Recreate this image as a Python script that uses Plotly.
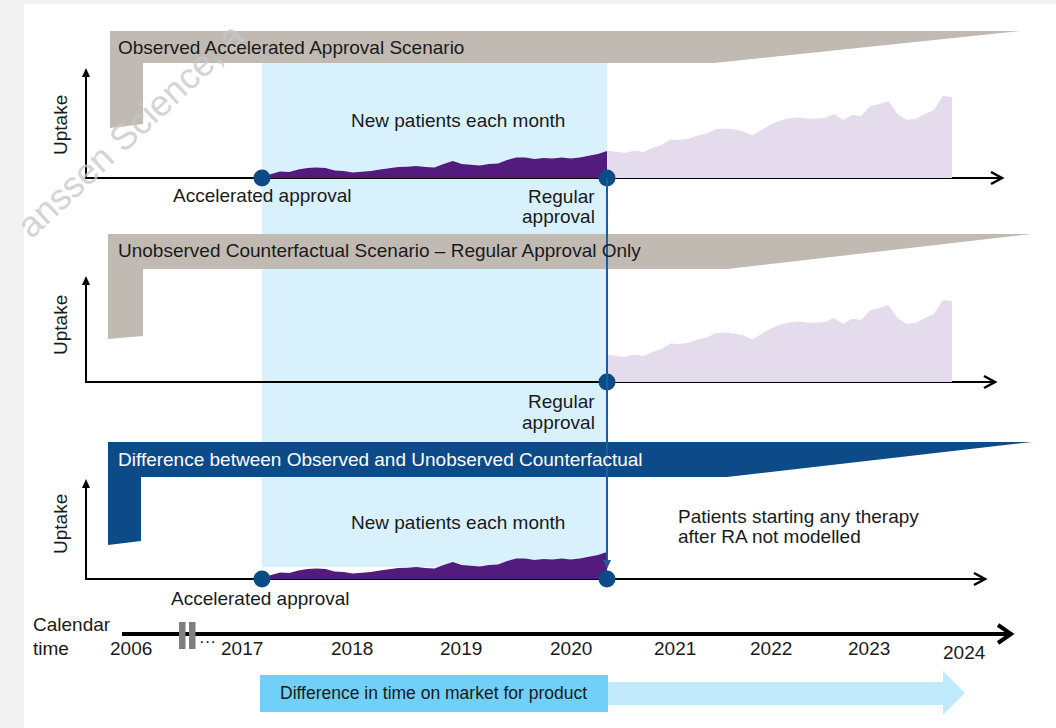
import plotly.graph_objects as go

W, H = 1056, 728

# ---------------- data ----------------
# months since accelerated approval
months_pre = list(range(0, 39))
uptake_pre = [0, 4, 6.5, 6, 8.5, 10, 10.5, 10, 7.5, 7,
              5.5, 6, 7, 8.5, 10, 11, 11.2, 12, 11, 10.5,
              14, 17, 14, 13, 12.5, 14, 14.5, 18, 20.5, 20.5,
              19, 20, 19.5, 20.5, 19.5, 20.5, 22, 24, 27]
months_post = list(range(38, 77))
uptake_post = [27.3, 26.5, 25, 27.5, 26, 30, 33, 38.5, 38, 39.3,
               42.5, 44.5, 49, 49.5, 48.5, 46.7, 42.5, 48, 53.3, 57.3,
               59.5, 60.5, 59.5, 59.3, 60, 64, 58, 63.3, 62, 72,
               74, 77, 64, 58.3, 59, 64, 68, 82, 81]
accel_month = 0
regular_month = 38

year_labels = ["2006", "2017", "2018", "2019", "2020", "2021", "2022", "2023", "2024"]
panel_titles = ["Observed Accelerated Approval Scenario",
                "Unobserved Counterfactual Scenario \u2013 Regular Approval Only",
                "Difference between Observed and Unobserved Counterfactual"]

# ---------------- style ----------------
FONT = "Liberation Sans, Arial, sans-serif"
TXT = "#1a1a1a"
GREY_BAR = "#c1bab3"
BLUE_BAR = "#0c4a88"
BAND = "#d9f1fc"
PURPLE = "#541b7e"
LAVENDER = "#e4dbec"
DOT = "#0b4c85"
VLINE = "#1f5c9c"

panel_base = [178, 382, 579]     # pixel y of each panel's baseline
panel_top = [68, 276, 479]
panel_xend = [1002, 995, 985]
AX_X = 86
SPAN = 100                       # pixel height of each uptake axis

fig = go.Figure()

def ydom(b):
    return [1 - b / H, 1 - (b - SPAN) / H]

layout_axes = dict(
    xaxis=dict(range=[0, W], domain=[0, 1], visible=False, fixedrange=True),
    yaxis=dict(range=[H, 0], domain=[0, 1], visible=False, fixedrange=True),
    xaxis2=dict(range=[0, 76], domain=[262 / W, 952 / W], anchor="y2", visible=False),
    yaxis2=dict(range=[0, SPAN], domain=ydom(panel_base[0]), anchor="x2", visible=False),
    yaxis3=dict(range=[0, SPAN], domain=ydom(panel_base[1]), anchor="x2", visible=False),
    yaxis4=dict(range=[0, SPAN], domain=ydom(panel_base[2]), anchor="x2", visible=False),
)

def area(x, y, ya, color):
    fig.add_trace(go.Scatter(x=x, y=y, xaxis="x2", yaxis=ya, mode="lines",
                             fill="tozeroy", fillcolor=color,
                             line=dict(width=0, color=color),
                             hoverinfo="skip", showlegend=False))

# panel 1: observed (pre) + post
area(months_pre, uptake_pre, "y2", PURPLE)
area(months_post, uptake_post, "y2", LAVENDER)
# panel 2: counterfactual (post only)
area(months_post, uptake_post, "y3", LAVENDER)
# panel 3: difference (pre only)
area(months_pre, uptake_pre, "y4", PURPLE)

def dots(xs, ya):
    fig.add_trace(go.Scatter(x=xs, y=[0] * len(xs), xaxis="x2", yaxis=ya, mode="markers",
                             marker=dict(size=17, color=DOT), cliponaxis=False,
                             hoverinfo="skip", showlegend=False))

dots([accel_month, regular_month], "y2")
dots([regular_month], "y3")
dots([accel_month, regular_month], "y4")

shapes = []
# background
shapes.append(dict(type="rect", xref="paper", yref="paper", x0=24 / W, x1=1, y0=0, y1=1 - 4 / H,
                   fillcolor="white", line=dict(width=0), layer="below"))
# light blue band between approvals
shapes.append(dict(type="rect", xref="x2", yref="y", x0=accel_month, x1=regular_month,
                   y0=63, y1=567, fillcolor=BAND, line=dict(width=0), layer="below"))

# header bars
hdr_paths = [
    "M 110,31 L 1021,31 L 714,63 L 143,63 L 143,124 L 110,128 Z",
    "M 108,234 L 1032,234 L 727,269 L 143,269 L 143,336 L 108,339 Z",
    "M 108,442 L 1032,442 L 727,477 L 141,477 L 141,541 L 108,545 Z",
]
hdr_cols = [GREY_BAR, GREY_BAR, BLUE_BAR]
for p, c in zip(hdr_paths, hdr_cols):
    shapes.append(dict(type="path", xref="x", yref="y", path=p, fillcolor=c,
                       line=dict(width=0), layer="below"))

# panel axes
for b, t, xe in zip(panel_base, panel_top, panel_xend):
    shapes.append(dict(type="line", xref="x", yref="y", x0=AX_X, x1=xe - 1, y0=b, y1=b,
                       line=dict(color="black", width=2.2), layer="below"))
    shapes.append(dict(type="path", xref="x", yref="y",
                       path=f"M {xe-11},{b-6} L {xe},{b} L {xe-11},{b+6}",
                       line=dict(color="black", width=2.5), layer="below"))
    shapes.append(dict(type="line", xref="x", yref="y", x0=AX_X, x1=AX_X, y0=b + 1, y1=t + 6,
                       line=dict(color="black", width=2), layer="below"))
    shapes.append(dict(type="path", xref="x", yref="y",
                       path=f"M {AX_X-4},{t+9} L {AX_X},{t} L {AX_X+4},{t+9} Z",
                       fillcolor="black", line=dict(width=0), layer="below"))

# vertical regular-approval line
shapes.append(dict(type="line", xref="x2", yref="y", x0=regular_month, x1=regular_month,
                   y0=panel_base[0], y1=566, line=dict(color=VLINE, width=2), layer="above"))
shapes.append(dict(type="path", xref="x", yref="y",
                   path="M 603,560 L 611,560 L 607,569 Z", fillcolor=VLINE,
                   line=dict(width=0), layer="above"))

# calendar time axis
shapes.append(dict(type="line", xref="x", yref="y", x0=122, x1=1009, y0=634, y1=634,
                   line=dict(color="black", width=4), layer="below"))
shapes.append(dict(type="path", xref="x", yref="y", path="M 998,625 L 1011,634 L 998,643",
                   line=dict(color="black", width=4), layer="below"))
for x0 in (179, 189):
    shapes.append(dict(type="rect", xref="x", yref="y", x0=x0, x1=x0 + 6.5, y0=622, y1=649,
                       fillcolor="#7f7f7f", line=dict(width=0), layer="below"))

# difference-in-time arrow
shapes.append(dict(type="rect", xref="x", yref="y", x0=260, x1=608, y0=675, y1=712,
                   fillcolor="#70d0f7", line=dict(width=0), layer="below"))
shapes.append(dict(type="path", xref="x", yref="y",
                   path="M 608,682 L 943,682 L 943,671 L 965,693 L 943,715 L 943,705 L 608,705 Z",
                   fillcolor="#c0eafc", line=dict(width=0), layer="below"))

ann = []

def txt(x, y, s, size=19, color=TXT, xanchor="center", angle=0):
    ann.append(dict(x=x, y=y, xref="x", yref="y", text=s, showarrow=False,
                    xanchor=xanchor, yanchor="middle", textangle=angle,
                    font=dict(family=FONT, size=size, color=color)))

# watermark (drawn first, under other text)
ann.append(dict(x=130, y=130, xref="x", yref="y", text="anssen Science, a", showarrow=False,
                textangle=-43, xanchor="center", yanchor="middle",
                font=dict(family=FONT, size=36, color="rgba(200,200,200,0.8)")))

# headers
txt(116, 47, panel_titles[0], 19, TXT, "left")
txt(116, 250, panel_titles[1], 19, TXT, "left")
txt(116, 459, panel_titles[2], 19, "white", "left")

# uptake labels
for yc in (125, 325, 524):
    txt(60, yc, "Uptake", 19, TXT, "center", -90)

txt(458, 120, "New patients each month")
txt(458, 522, "New patients each month")
txt(262, 195, "Accelerated approval")
txt(260, 598, "Accelerated approval")
for y1, y2 in ((196, 216), (401, 422)):
    txt(597, y1, "Regular", 19, TXT, "right")
    txt(597, y2, "approval", 19, TXT, "right")
txt(676, 516, "Patients starting any therapy", 19, TXT, "left")
txt(676, 536, "after RA not modelled", 19, TXT, "left")

# calendar
txt(31, 624, "Calendar", 19, TXT, "left")
txt(31, 648, "time", 19, TXT, "left")
year_x = [131, 242, 352, 461, 571, 675, 771, 869, 964]
year_y = [648] * 8 + [652]
for lab, xx, yy in zip(year_labels, year_x, year_y):
    txt(xx, yy, lab, 19)
txt(207, 641, "\u00b7\u00b7\u00b7", 17)

txt(433, 693, "Difference in time on market for product", 17.5)

fig.update_layout(
    width=W, height=H, autosize=False,
    margin=dict(l=0, r=0, t=0, b=0, pad=0),
    paper_bgcolor="#f2f2f2", plot_bgcolor="rgba(0,0,0,0)",
    showlegend=False, shapes=shapes, annotations=ann,
    **layout_axes,
)

fig.write_html("out.html", config={"displayModeBar": False},
               post_script="document.body.style.margin='0';document.body.style.padding='0';")
